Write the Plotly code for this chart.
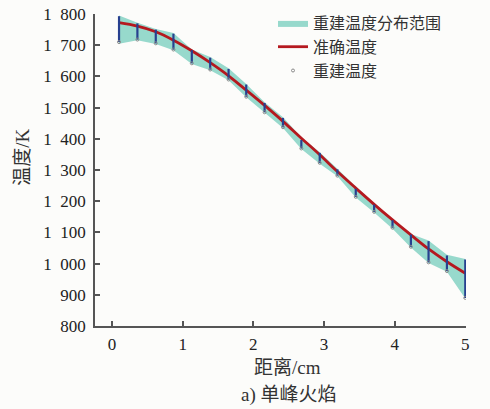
import plotly.graph_objects as go

# ---- data ----
distance_cm = [0.10, 0.36, 0.62, 0.87, 1.13, 1.39, 1.65, 1.90, 2.16, 2.42,
               2.68, 2.94, 3.19, 3.45, 3.71, 3.97, 4.23, 4.48, 4.74, 5.00]
exact_temp = [1772, 1761, 1743, 1716, 1682, 1644, 1602, 1556, 1507, 1456,
              1402, 1349, 1295, 1242, 1190, 1140, 1092, 1047, 1006, 969]
recon_low = [1710, 1718, 1706, 1686, 1642, 1622, 1590, 1535, 1485, 1437,
             1369, 1323, 1282, 1214, 1166, 1115, 1054, 1004, 976, 890]
recon_high = [1793, 1770, 1750, 1737, 1684, 1660, 1624, 1574, 1515, 1467,
              1396, 1355, 1302, 1240, 1189, 1139, 1093, 1072, 1026, 1013]
band_low = [1705, 1716, 1704, 1684, 1640, 1620, 1588, 1533, 1483, 1435,
            1367, 1320, 1280, 1212, 1164, 1112, 1052, 1002, 974, 888]
band_high = [1795, 1772, 1752, 1739, 1686, 1662, 1626, 1576, 1517, 1469,
             1405, 1357, 1304, 1246, 1194, 1142, 1095, 1074, 1028, 1015]
y_tickvals = [800, 900, 1000, 1100, 1200, 1300, 1400, 1500, 1600, 1700, 1800]
y_ticktext = ["800", "900", "1\u2002000", "1\u2002100", "1\u2002200", "1\u2002300",
              "1\u2002400", "1\u2002500", "1\u2002600", "1\u2002700", "1\u2002800"]
x_tickvals = [0, 1, 2, 3, 4, 5]
x_ticktext = ["0", "1", "2", "3", "4", "5"]

# ---- figure ----
W, H = 490, 409
L, R, T, B = 95, 24, 14, 83
pw, ph = W - L - R, H - T - B

def px(x):
    return (x - L) / pw

def py(y):
    return (H - B - y) / ph

SERIF = "'Liberation Serif', 'Times New Roman', Times, serif"

fig = go.Figure()

fig.add_trace(go.Scatter(
    x=distance_cm + distance_cm[::-1],
    y=band_high + band_low[::-1],
    fill="toself", fillcolor="rgba(125,208,192,0.8)",
    line=dict(width=0), mode="lines",
    name="重建温度分布范围", hoverinfo="skip"))

fig.add_trace(go.Scatter(
    x=distance_cm, y=exact_temp, mode="lines",
    line=dict(color="#b5191f", width=2.8, shape="spline"),
    name="准确温度"))

fig.add_trace(go.Scatter(
    x=distance_cm, y=recon_low, mode="markers",
    marker=dict(symbol="circle-open", size=3, color="#8a8a8a",
                line=dict(width=1, color="#8a8a8a")),
    error_y=dict(type="data", symmetric=False,
                 array=[h - l for h, l in zip(recon_high, recon_low)],
                 arrayminus=[0] * len(recon_low),
                 color="#27408f", thickness=2.2, width=0),
    name="重建温度"))

axis_common = dict(showline=True, linecolor="#555", linewidth=1.5,
                   ticks="inside", ticklen=5, tickwidth=1.5, tickcolor="#555",
                   showgrid=False, zeroline=False, automargin=False,
                   tickfont=dict(family=SERIF, size=17, color="#222"))

fig.update_xaxes(range=[-0.24, 5.01], tickvals=x_tickvals, ticktext=x_ticktext,
                 ticklabelstandoff=2, **axis_common)
fig.update_yaxes(range=[800, 1800], tickvals=y_tickvals, ticktext=y_ticktext,
                 ticklabelstandoff=4, **axis_common)

title_font = dict(family=SERIF + ", 'Noto Sans CJK SC'", size=19, color="#333")
fig.add_annotation(text="距离/cm", x=px(287.5), y=py(367), xref="paper", yref="paper",
                   showarrow=False, font=title_font, xanchor="center", yanchor="middle")
fig.add_annotation(text="a) 单峰火焰", x=px(289), y=py(395), xref="paper", yref="paper",
                   showarrow=False, font=title_font, xanchor="center", yanchor="middle")
fig.add_annotation(text="温度/K", x=px(21.7), y=py(157), xref="paper", yref="paper",
                   showarrow=False, font=title_font, textangle=-90,
                   xanchor="center", yanchor="middle")

fig.update_layout(
    width=W, height=H,
    margin=dict(l=L, r=R, t=T, b=B, autoexpand=False),
    paper_bgcolor="#fcfcfa", plot_bgcolor="#fcfcfa",
    showlegend=True,
    legend=dict(x=px(273), y=py(6), xanchor="left", yanchor="top",
                bgcolor="rgba(0,0,0,0)", tracegroupgap=0,
                font=dict(family="'Noto Sans CJK SC'", size=16, color="#333"),
                itemwidth=30),
    font=dict(family=SERIF + ", 'Noto Sans CJK SC'"),
)

fig.write_html("out.html", config={"displayModeBar": False},
               post_script="document.body.style.margin='0';document.body.style.overflow='hidden';")
